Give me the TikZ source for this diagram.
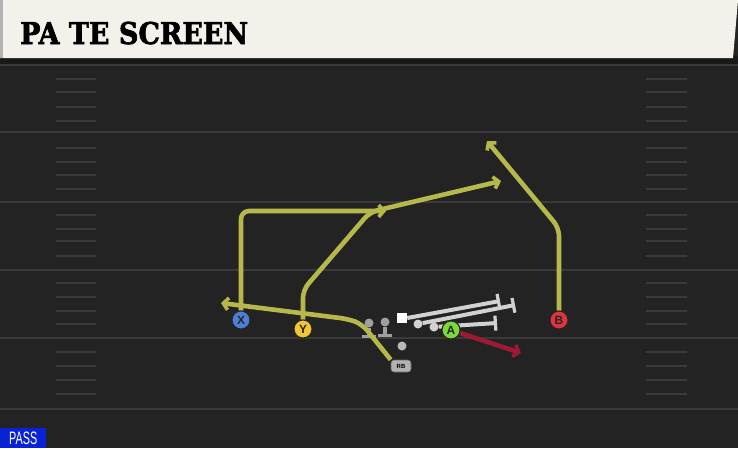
\documentclass[tikz,border=0pt]{standalone}
\usepackage{fontspec}
\setmainfont{Liberation Sans}
\newfontfamily\slabfont{DejaVu Serif}[BoldFeatures={FakeBold=2.2}]
\usetikzlibrary{arrows.meta, positioning, shapes.misc}

\definecolor{fieldbg}{HTML}{232323}
\definecolor{yardcol}{HTML}{3A3A3A}
\definecolor{barcol}{HTML}{F4F1EA}
\definecolor{routecol}{HTML}{B7B84C}
\definecolor{blockcol}{HTML}{D2D2D2}
\definecolor{hotcol}{HTML}{9E1A32}
\definecolor{xcol}{HTML}{4A80D8}
\definecolor{ycol}{HTML}{F2C531}
\definecolor{bcol}{HTML}{E2313F}
\definecolor{acol}{HTML}{7BD93A}
\definecolor{passcol}{HTML}{0A22D6}

\begin{document}
\begin{tikzpicture}[x=1pt,y=-1pt,
    player/.style={draw=black!85,line width=1pt,circle,minimum size=18pt,inner sep=0pt,
      font=\bfseries\fontsize{12}{12}\selectfont,text=black!85},
    route/.style={line width=4.6pt,color=routecol,line join=round,rounded corners=8pt,
      -{Straight Barb[length=5pt,width=12pt,line width=3.6pt]}},
    block/.style={line width=4pt,color=blockcol,-{Bar[width=15pt,line width=3.2pt]}},
    lineman/.style={circle,fill=gray!75,minimum size=9pt,inner sep=0pt},
    hash/.style={yardcol,line width=1.6pt}]
    \useasboundingbox (0,0) rectangle (738,448);
    \fill[fieldbg] (0,0) rectangle (738,448);

    % Title bar
    \fill[black!90] (0,56) rectangle (738,64);
    \fill[barcol] (0,0) -- (738,0) -- (733,58) -- (0,58) -- cycle;
    \fill[gray!60] (0,0) rectangle (2.5,58);
    \node[anchor=base west,inner sep=0pt,font=\slabfont\bfseries\fontsize{30}{30}\selectfont]
      (title) at (20,44) {\scalebox{0.9}[1]{PA TE SCREEN}};

    % Yard lines and hashes
    \foreach \yy in {65,132,202,270,338,409}
      \draw[yardcol,line width=2.2pt] (0,\yy) -- (738,\yy);
    \foreach \yy in {79,92,107,121,148,162,175,189,215,229,241,256,283,297,311,324,352,366,380,394} {
      \draw[hash] (56,\yy) -- (96,\yy);
      \draw[hash] (646,\yy) -- (687,\yy);
    }

    % Line
    \node[lineman] (lt) at (369,323) {};
    \node[lineman] (lg) at (385,322) {};
    \node[fill=white,minimum size=10pt,inner sep=0pt] (ctr) at (402,318) {};
    \node[lineman,fill=blockcol] (rg) at (418,324) {};
    \node[lineman,fill=blockcol] (rt) at (434,327) {};
    \foreach \p in {lt,lg} {
      \draw[gray!75,line width=3.5pt] (\p.south) -- ++(0,9) coordinate (\p b);
      \draw[gray!75,line width=3.5pt] ([xshift=-7pt]\p b) -- ([xshift=7pt]\p b);
    }
    \node[circle,fill=gray!55,minimum size=9pt,inner sep=0pt] (qb) at (402,346) {};
    \node[rounded corners=3pt,fill=gray!60,draw=black!60,line width=0.6pt,minimum width=20pt,
      minimum height=12pt,inner sep=0pt,font=\bfseries\fontsize{6}{6}\selectfont] (rb) at (401,366) {RB};

    % Blocks
    \coordinate (cb) at (500,301);
    \coordinate (gb) at (515,305);
    \coordinate (tb) at (497,323);
    \draw[block] (ctr.east) -- (cb);
    \draw[block] (rg) -- (gb);
    \draw[block] (rt) -- (tb);

    % Receivers
    \node[player,fill=xcol] (X) at (241,320) {X};
    \node[player,fill=ycol] (Y) at (303,329) {Y};
    \node[player,fill=acol] (A) at (451,330) {A};
    \node[player,fill=bcol] (B) at (559,320) {B};

    % Routes
    \coordinate (xe) at (386,211);
    \coordinate (ye) at (501,181);
    \coordinate (be) at (487,141);
    \coordinate (rbe) at (221,303);
    \coordinate (ae) at (521,353);
    \draw[route] (rb.north west) -- (362,324) -- (348,319) -- (rbe);
    \draw[route] (X) -- (241,211) -- (xe);
    \draw[route] (Y) -- (303,290) -- (370,212) -- (ye);
    \draw[route] (B) -- (559,228) -- (be);
    \draw[route,color=hotcol,rounded corners=0pt] (A) -- (ae);
    \node[player,fill=xcol] at (X) {X};
    \node[player,fill=ycol] at (Y) {Y};
    \node[player,fill=acol] at (A) {A};
    \node[player,fill=bcol] at (B) {B};

    % Play type
    \node[anchor=south west,fill=passcol,text=white,inner sep=0pt,minimum width=46pt,minimum height=20pt,
      font=\fontsize{18}{18}\selectfont] (pass) at (0,448) {\scalebox{0.6}[1]{PASS}};
\end{tikzpicture}
\end{document}
